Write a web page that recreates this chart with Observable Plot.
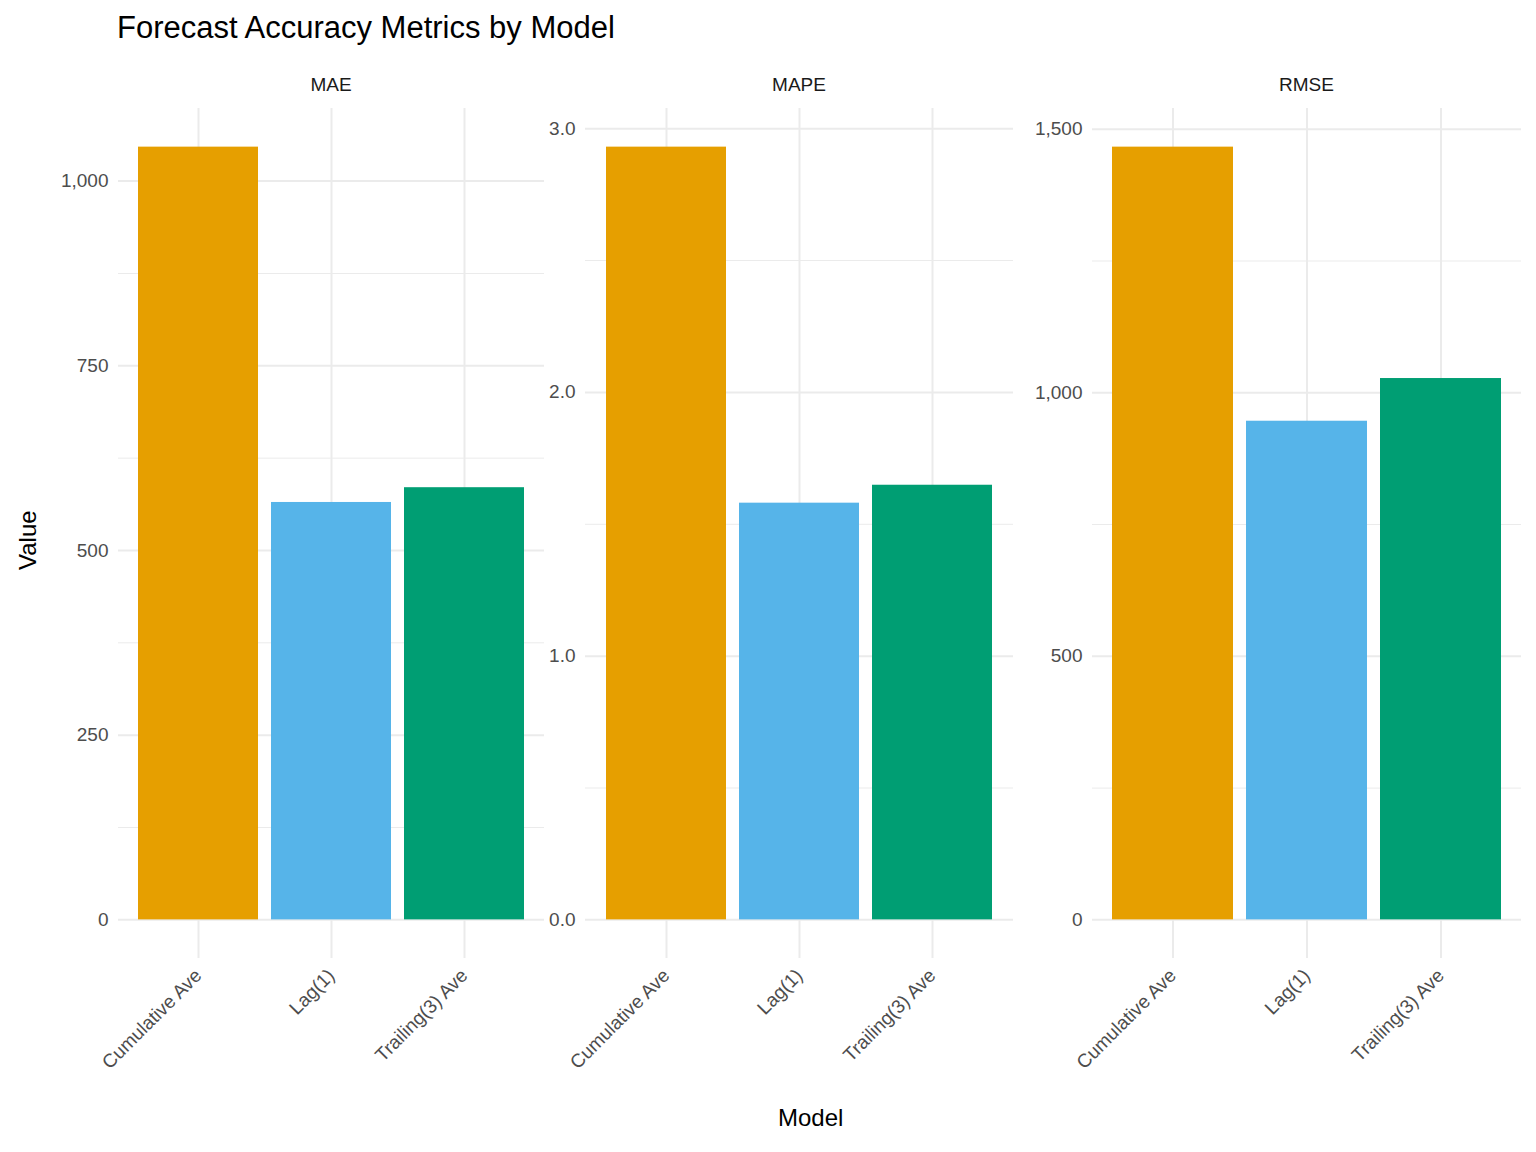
<!DOCTYPE html>
<html>
<head>
<meta charset="utf-8">
<script src="https://cdn.jsdelivr.net/npm/d3@7"></script>
<script src="https://cdn.jsdelivr.net/npm/@observablehq/plot@0.6"></script>
<style>
  body { margin: 0; background: #fff; font-family: "Liberation Sans", Arial, sans-serif; }
  #wrap { position: relative; width: 1536px; height: 1152px; }
  .abs { position: absolute; }
  .strip { position: absolute; top: 74px; font-size: 19px; color: #1a1a1a; text-align: center; }
</style>
</head>
<body>
<div id="wrap">
  <div class="abs" style="left:117px;top:10px;font-size:31px;color:#000">Forecast Accuracy Metrics by Model</div>
  <div class="abs" style="left:14px;top:532px;font-size:24px;transform:rotate(-90deg);transform-origin:left top;top:570px">Value</div>
  <div class="abs" style="left:778px;top:1104px;font-size:24px">Model</div>
</div>
<script>
const models = ["Cumulative Ave", "Lag(1)", "Trailing(3) Ave"];
const colors = ["#E69F00", "#56B4E9", "#009E73"];
const metrics = ["MAE", "MAPE", "RMSE"];
const maeValues = [1046, 565, 585];
const mapeValues = [2.93, 1.58, 1.648];
const rmseValues = [1466, 946, 1027];
const majorTicks = [[0, 250, 500, 750, 1000], [0, 1, 2, 3], [0, 500, 1000, 1500]];
const minorTicks = [[125, 375, 625, 875], [0.5, 1.5, 2.5], [250, 750, 1250]];
const allValues = [maeValues, mapeValues, rmseValues];

// panel placement: svg left, width, marginLeft
const panels = [[40, 504, 78], [544, 469, 41], [1013, 508, 79]];
const wrap = document.getElementById("wrap");

metrics.forEach((m, i) => {
  const vals = allValues[i];
  const data = models.map((model, j) => ({model, value: vals[j]}));
  const mx = d3.max(vals);
  const [left, width, ml] = panels[i];
  const chart = Plot.plot({
    width, height: 998,
    marginLeft: ml, marginRight: 0, marginTop: 8, marginBottom: 140,
    style: {fontFamily: "Liberation Sans, Arial, sans-serif", fontSize: "19px", color: "#4d4d4d", background: "transparent"},
    x: {domain: models, paddingInner: 0.1, paddingOuter: 0.15, label: null},
    y: {domain: [-0.05 * mx, 1.05 * mx], label: null},
    color: {domain: models, range: colors},
    marks: [
      Plot.ruleY(minorTicks[i], {stroke: "#ebebeb", strokeWidth: 1}),
      Plot.ruleY(majorTicks[i], {stroke: "#ebebeb", strokeWidth: 2}),
      Plot.ruleX(models, {x: d => d, stroke: "#ebebeb", strokeWidth: 2}),
      Plot.barY(data, {x: "model", y: "value", fill: "model"}),
      Plot.axisY(majorTicks[i], {tickSize: 0, tickPadding: 10, fontSize: 19, fill: "#4d4d4d"}),
      Plot.axisX({tickSize: 0, tickRotate: -45, tickPadding: 14, fontSize: 19, fill: "#4d4d4d", textAnchor: "end"})
    ]
  });
  chart.style.position = "absolute";
  chart.style.left = left + "px";
  chart.style.top = "100px";
  wrap.appendChild(chart);
  const s = document.createElement("div");
  s.className = "strip";
  s.style.left = (left + ml) + "px";
  s.style.width = (width - ml) + "px";
  s.textContent = m;
  wrap.appendChild(s);
});
</script>
</body>
</html>
